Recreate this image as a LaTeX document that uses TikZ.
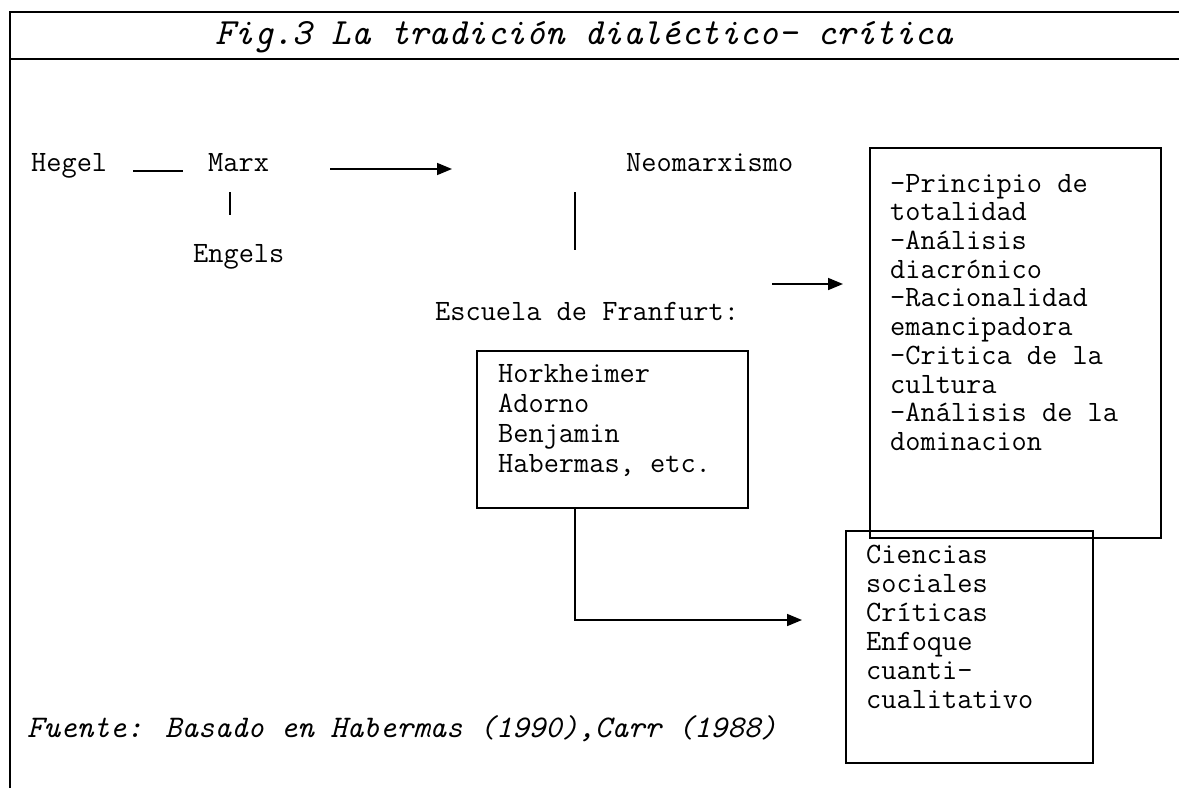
\documentclass[tikz,border=0pt]{standalone}
\usetikzlibrary{arrows.meta}
\begin{document}
\begin{tikzpicture}[x=1pt,y=-1pt,
  txt/.style={font=\ttfamily\fontsize{29.5}{29}\selectfont, inner sep=0pt, anchor=base west},
  boxn/.style={draw, line width=1.6pt, anchor=north west, inner sep=0pt},
  ln/.style={line width=1.6pt},
  arr/.style={line width=1.6pt, -{Triangle[length=15pt,width=12pt]}},
  frame/.style={line width=2pt}]
\useasboundingbox (0,0) rectangle (1179,788);
% frame
\draw[frame] (10,788) -- (10,12) -- (1179,12);
\draw[frame] (10,59) -- (1179,59);
% title
\node[anchor=base west, inner sep=0pt, font=\ttfamily\itshape\fontsize{37}{37}\selectfont] (title) at (215,44) {Fig.3 La tradición dialéctico- crítica};
% first row
\node[txt] (hegel) at (31,171) {Hegel};
\node[txt] (marx) at (208,171) {Marx};
\node[txt] (engels) at (193,262) {Engels};
\node[txt] (neo) at (626,171) {Neomarxismo};
\node[txt] (escuela) at (435,320) {Escuela de Franfurt:};
% boxes
\node[boxn, minimum width=291, minimum height=390] (rbox) at (869,147) {};
\node[font=\ttfamily\fontsize{29.5}{28.7}\selectfont, inner sep=0pt, anchor=north west, align=left] (rtext) at (890,171.9)
  {\strut-Principio de\\totalidad\\-Análisis\\diacrónico\\-Racionalidad\\emancipadora\\-Critica de la\\cultura\\-Análisis de la\\dominacion};
\node[boxn, minimum width=271, minimum height=157] (hbox) at (476,350) {};
\node[font=\ttfamily\fontsize{29.5}{30}\selectfont, inner sep=0pt, anchor=north west, align=left] (htext) at (498,361)
  {\strut Horkheimer\\Adorno\\Benjamin\\Habermas, etc.};
\node[boxn, minimum width=247, minimum height=232] (cbox) at (845,530) {};
\node[font=\ttfamily\fontsize{29.5}{29}\selectfont, inner sep=0pt, anchor=north west, align=left] (ctext) at (866,542.7)
  {\strut Ciencias\\sociales\\Críticas\\Enfoque\\cuanti-\\cualitativo};
% source
\node[anchor=base west, inner sep=0pt, font=\ttfamily\itshape\fontsize{31.5}{31.5}\selectfont] (fuente) at (27,737) {Fuente: Basado en Habermas (1990),Carr (1988)};
% connector end points
\coordinate (a1s) at (330,169);
\coordinate (a1e) at (452,169);
\coordinate (v1s) at (575,192);
\coordinate (v1e) at (575,250);
\coordinate (a2s) at (772,284);
\coordinate (a2e) at (843,284);
\coordinate (a3e) at (802,620);
% connectors
\draw[ln] ([xshift=26pt]hegel.base east) -- ([xshift=-25pt]marx.base west);
\draw[ln] ([xshift=22pt,yshift=-21pt]marx.base west) -- ++(0,23);
\draw[arr] (a1s) -- (a1e);
\draw[ln] (v1s) -- (v1e);
\draw[arr] (a2s) -- (a2e);
\draw[arr] (hbox.south -| v1s) |- (a3e);
\end{tikzpicture}
\end{document}
